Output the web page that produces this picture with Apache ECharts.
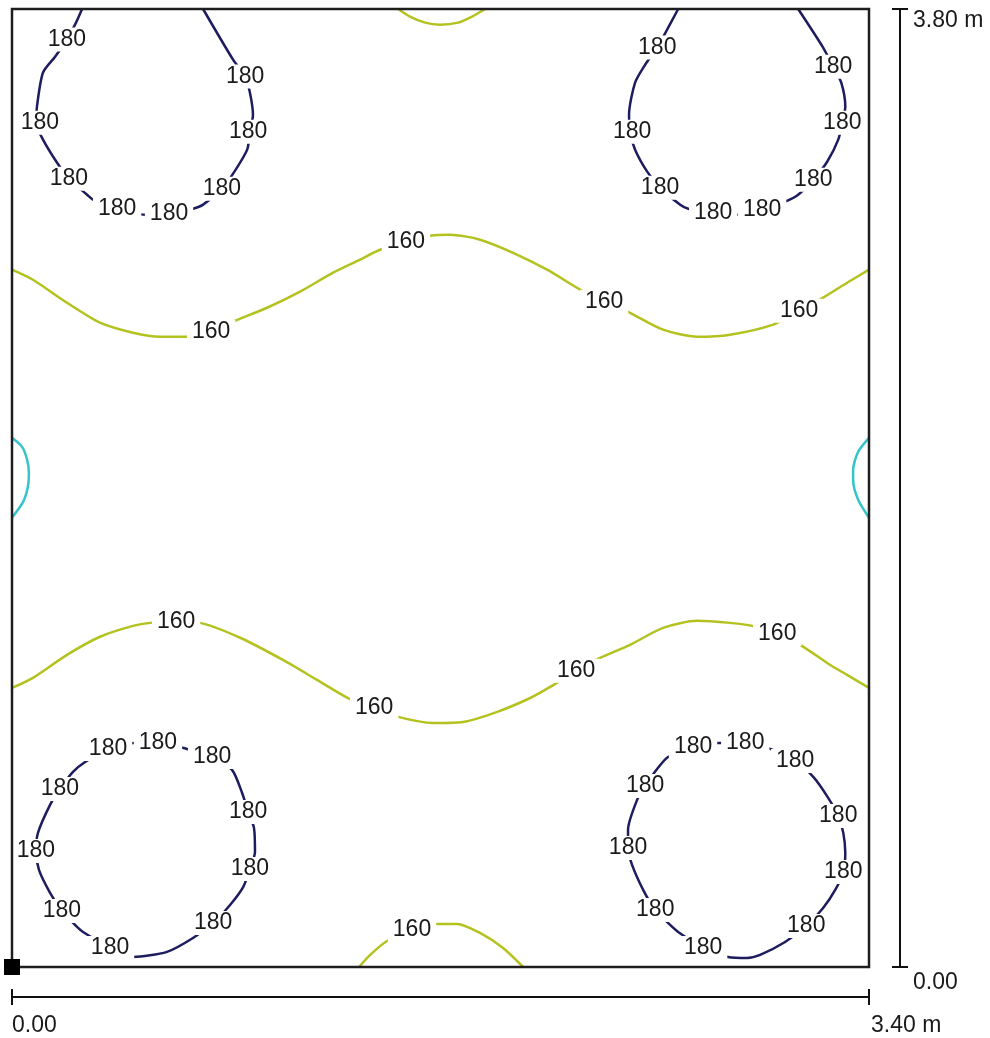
<!DOCTYPE html>
<html>
<head>
<meta charset="utf-8">
<script src="https://cdn.jsdelivr.net/npm/echarts@6/dist/echarts.min.js"></script>
<style>
  html, body { margin: 0; padding: 0; background: #ffffff; }
  #chart { width: 990px; height: 1038px; }
</style>
</head>
<body>
<div id="chart"></div>
<script>
// Room size in metres
const roomWidth = 3.40;
const roomDepth = 3.80;

// Isolux levels (lx) and their line colours
const levelColors = { 180: '#1c1c5e', 160: '#b4c21f', 140: '#35c4c9' };

// 180 lx isolines around the four luminaires, [x m, y m]
const iso180TopLeft = [
  [0.278, 3.80], [0.254, 3.746], [0.218, 3.679], [0.171, 3.611], [0.123, 3.548],
  [0.099, 3.413], [0.095, 3.349], [0.123, 3.282], [0.179, 3.190], [0.226, 3.127],
  [0.298, 3.063], [0.321, 3.044], [0.417, 3.008], [0.528, 2.984], [0.623, 2.988],
  [0.718, 3.008], [0.758, 3.024], [0.833, 3.087], [0.885, 3.159], [0.933, 3.242],
  [0.944, 3.313], [0.956, 3.381], [0.944, 3.468], [0.925, 3.532], [0.877, 3.599],
  [0.758, 3.80]
];
const iso180TopRight = [
  [2.643, 3.80], [2.599, 3.718], [2.560, 3.647], [2.512, 3.579], [2.472, 3.508],
  [2.448, 3.381], [2.452, 3.313], [2.472, 3.242], [2.520, 3.155], [2.571, 3.091],
  [2.651, 3.024], [2.683, 3.008], [2.782, 2.992], [2.877, 2.984], [2.976, 3.004],
  [3.067, 3.036], [3.115, 3.060], [3.179, 3.123], [3.234, 3.194], [3.278, 3.282],
  [3.294, 3.349], [3.306, 3.413], [3.290, 3.508], [3.258, 3.571], [3.218, 3.647],
  [3.119, 3.80]
];
const iso180BottomLeft = [
  [0.381, 0.865], [0.484, 0.889], [0.579, 0.889], [0.694, 0.865], [0.794, 0.833],
  [0.873, 0.782], [0.913, 0.690], [0.937, 0.615], [0.960, 0.552], [0.964, 0.456],
  [0.944, 0.389], [0.917, 0.317], [0.865, 0.246], [0.798, 0.175], [0.718, 0.115],
  [0.615, 0.060], [0.480, 0.040], [0.389, 0.075], [0.282, 0.139], [0.258, 0.159],
  [0.198, 0.222], [0.151, 0.294], [0.107, 0.385], [0.095, 0.460], [0.103, 0.532],
  [0.151, 0.643], [0.190, 0.706], [0.242, 0.774], [0.290, 0.813], [0.381, 0.865]
];
const iso180BottomRight = [
  [2.702, 0.873], [2.802, 0.889], [2.909, 0.889], [3.008, 0.865], [3.107, 0.817],
  [3.179, 0.754], [3.238, 0.671], [3.278, 0.599], [3.298, 0.532], [3.306, 0.452],
  [3.298, 0.377], [3.270, 0.313], [3.218, 0.234], [3.151, 0.163], [3.067, 0.099],
  [2.968, 0.048], [2.917, 0.036], [2.841, 0.040], [2.742, 0.075], [2.643, 0.139],
  [2.611, 0.167], [2.552, 0.226], [2.504, 0.306], [2.460, 0.405], [2.444, 0.472],
  [2.444, 0.544], [2.480, 0.663], [2.512, 0.718], [2.563, 0.790], [2.603, 0.833],
  [2.702, 0.873]
];

// 160 lx isolines
const iso160Upper = [
  [0.000, 2.766], [0.083, 2.726], [0.218, 2.635], [0.349, 2.556], [0.480, 2.516],
  [0.587, 2.500], [0.687, 2.500], [0.790, 2.520], [0.877, 2.560], [1.012, 2.615],
  [1.143, 2.679], [1.274, 2.754], [1.381, 2.806], [1.460, 2.845], [1.563, 2.877],
  [1.659, 2.901], [1.738, 2.905], [1.857, 2.885], [1.988, 2.833], [2.123, 2.766],
  [2.254, 2.687], [2.349, 2.639], [2.444, 2.599], [2.583, 2.528], [2.718, 2.500],
  [2.849, 2.508], [3.020, 2.548], [3.123, 2.603], [3.218, 2.655], [3.313, 2.714],
  [3.400, 2.766]
];
const iso160Lower = [
  [0.000, 1.107], [0.083, 1.147], [0.218, 1.238], [0.349, 1.310], [0.480, 1.353],
  [0.548, 1.365], [0.651, 1.369], [0.746, 1.365], [0.905, 1.306], [1.075, 1.218],
  [1.210, 1.139], [1.333, 1.067], [1.437, 1.028], [1.532, 0.992], [1.671, 0.968],
  [1.790, 0.972], [1.925, 1.012], [2.056, 1.067], [2.135, 1.111], [2.238, 1.175],
  [2.325, 1.222], [2.452, 1.278], [2.583, 1.345], [2.718, 1.373], [2.849, 1.365],
  [2.937, 1.353], [3.036, 1.321], [3.127, 1.278], [3.246, 1.198], [3.313, 1.159],
  [3.400, 1.107]
];
const iso160TopEdge = [
  [1.532, 3.80], [1.579, 3.770], [1.639, 3.746], [1.698, 3.738], [1.770, 3.746],
  [1.825, 3.770], [1.877, 3.80]
];
const iso160BottomEdge = [
  [1.377, 0.000], [1.421, 0.048], [1.488, 0.103], [1.587, 0.147], [1.679, 0.171],
  [1.766, 0.171], [1.857, 0.135], [1.948, 0.075], [2.028, 0.000]
];

// 140 lx isolines touching the side walls
const iso140Left = [
  [0.000, 2.099], [0.040, 2.063], [0.060, 2.012], [0.067, 1.960], [0.063, 1.905],
  [0.044, 1.845], [0.000, 1.782]
];
const iso140Right = [
  [3.400, 2.099], [3.357, 2.044], [3.337, 1.972], [3.337, 1.933], [3.357, 1.853],
  [3.400, 1.782]
];

// Where the level values are written along the isolines
const labels180 = [
  [0.218, 3.679], [0.111, 3.349], [0.226, 3.127], [0.417, 3.008], [0.623, 2.988],
  [0.833, 3.087], [0.937, 3.313], [0.925, 3.532],
  [2.560, 3.647], [2.460, 3.313], [2.571, 3.091], [2.782, 2.992], [2.976, 3.004],
  [3.179, 3.123], [3.294, 3.349], [3.258, 3.571],
  [0.381, 0.865], [0.579, 0.889], [0.794, 0.833], [0.937, 0.615], [0.944, 0.389],
  [0.798, 0.175], [0.389, 0.075], [0.198, 0.222], [0.095, 0.460], [0.190, 0.706],
  [2.702, 0.873], [2.909, 0.889], [3.107, 0.817], [3.278, 0.599], [3.298, 0.377],
  [3.151, 0.163], [2.742, 0.075], [2.552, 0.226], [2.444, 0.472], [2.512, 0.718]
];
const labels160 = [
  [0.790, 2.520], [1.563, 2.877], [2.349, 2.639], [3.123, 2.603],
  [0.651, 1.369], [1.437, 1.028], [2.238, 1.175], [3.036, 1.321],
  [1.587, 0.147]
];

const isolines = [
  { level: 180, points: iso180TopLeft },
  { level: 180, points: iso180TopRight },
  { level: 180, points: iso180BottomLeft },
  { level: 180, points: iso180BottomRight },
  { level: 160, points: iso160Upper },
  { level: 160, points: iso160Lower },
  { level: 160, points: iso160TopEdge },
  { level: 160, points: iso160BottomEdge },
  { level: 140, points: iso140Left },
  { level: 140, points: iso140Right }
];
const isoLabels = [
  { level: 180, points: labels180 },
  { level: 160, points: labels160 }
];

const FONT = '"Liberation Sans", Arial, sans-serif';
const chart = echarts.init(document.getElementById('chart'), null, { renderer: 'canvas' });

const series = [];
isolines.forEach(function (iso) {
  series.push({
    type: 'line',
    data: iso.points,
    showSymbol: false,
    smooth: 0.25,
    silent: true,
    z: 2,
    lineStyle: { color: levelColors[iso.level], width: 2.5 }
  });
});
isoLabels.forEach(function (lab) {
  series.push({
    type: 'scatter',
    data: lab.points,
    symbolSize: 0,
    silent: true,
    z: 5,
    itemStyle: { opacity: 1 },
    label: {
      show: true,
      position: 'inside',
      formatter: String(lab.level),
      fontFamily: FONT,
      fontSize: 23,
      color: '#1a1a1a',
      opacity: 1,
      backgroundColor: '#ffffff',
      padding: [1, 5, 0, 5]
    }
  });
});

chart.setOption({
  animation: false,
  backgroundColor: '#ffffff',
  grid: {
    left: 12, right: 121, top: 9, bottom: 71, z: 8,
    show: true, borderColor: '#1e1e1e', borderWidth: 2.5, backgroundColor: 'transparent'
  },
  xAxis: { type: 'value', min: 0, max: roomWidth, show: false },
  yAxis: { type: 'value', min: 0, max: roomDepth, show: false },
  series: series
});

// Dimension bars beside and below the room outline
const origin = chart.convertToPixel({ gridIndex: 0 }, [0, 0]);
const corner = chart.convertToPixel({ gridIndex: 0 }, [roomWidth, roomDepth]);
const barX = corner[0] + 31;
const barY = origin[1] + 30;
const cap = 8;
const stroke = { stroke: '#111111', lineWidth: 2 };
const textStyle = { fontFamily: FONT, fontSize: 23, fill: '#1a1a1a' };

chart.setOption({
  graphic: [
    { type: 'line', shape: { x1: barX, y1: corner[1], x2: barX, y2: origin[1] }, style: stroke },
    { type: 'line', shape: { x1: barX - cap, y1: corner[1], x2: barX + cap, y2: corner[1] }, style: stroke },
    { type: 'line', shape: { x1: barX - cap, y1: origin[1], x2: barX + cap, y2: origin[1] }, style: stroke },
    { type: 'line', shape: { x1: origin[0], y1: barY, x2: corner[0], y2: barY }, style: stroke },
    { type: 'line', shape: { x1: origin[0], y1: barY - cap, x2: origin[0], y2: barY + cap }, style: stroke },
    { type: 'line', shape: { x1: corner[0], y1: barY - cap, x2: corner[0], y2: barY + cap }, style: stroke },
    { type: 'text', x: barX + 13, y: corner[1] + 12,
      style: Object.assign({ text: roomDepth.toFixed(2) + ' m', verticalAlign: 'middle' }, textStyle) },
    { type: 'text', x: barX + 13, y: origin[1] + 16,
      style: Object.assign({ text: (0).toFixed(2), verticalAlign: 'middle' }, textStyle) },
    { type: 'text', x: origin[0], y: barY + 29,
      style: Object.assign({ text: (0).toFixed(2), verticalAlign: 'middle' }, textStyle) },
    { type: 'text', x: corner[0] + 2, y: barY + 29,
      style: Object.assign({ text: roomWidth.toFixed(2) + ' m', verticalAlign: 'middle' }, textStyle) },
    { type: 'rect', z: 10, shape: { x: origin[0] - 8, y: origin[1] - 8, width: 16, height: 16 },
      style: { fill: '#000000' } }
  ]
});
</script>
</body>
</html>
